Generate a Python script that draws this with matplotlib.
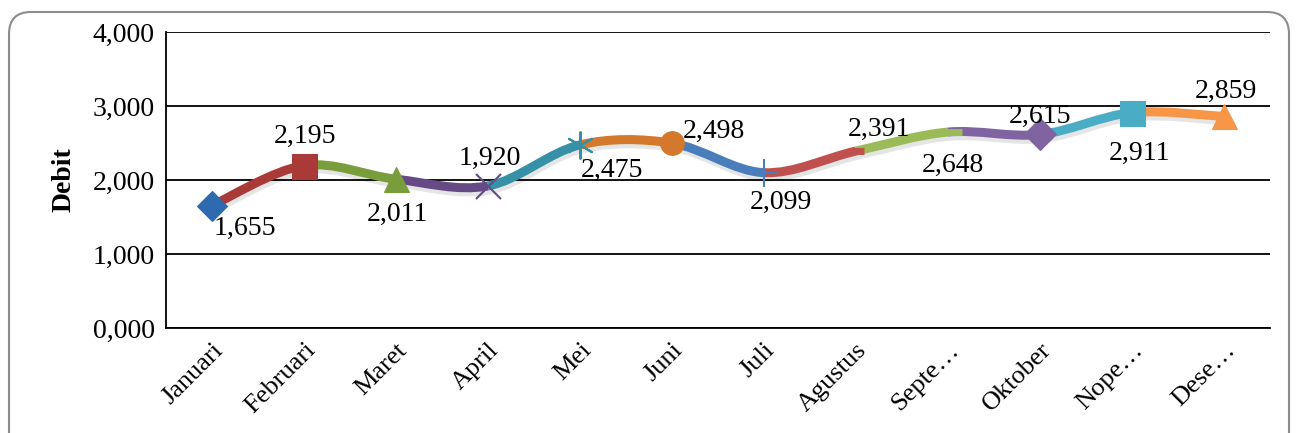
import matplotlib
matplotlib.use('Agg')
from matplotlib import pyplot as plt
from matplotlib.path import Path
from matplotlib.patches import PathPatch, FancyBboxPatch
from matplotlib.transforms import IdentityTransform
import matplotlib.patheffects as pe
import numpy as np

plt.rcParams['font.family'] = ['Liberation Serif', 'DejaVu Serif']

# Data
months = ['Januari', 'Februari', 'Maret', 'April', 'Mei', 'Juni', 'Juli',
          'Agustus', 'Septe…', 'Oktober', 'Nope…', 'Dese…']
debit = [1655, 2195, 2011, 1920, 2475, 2498, 2099, 2391, 2648, 2615, 2911, 2859]

# Style per point (colour of point and of the segment leading to it)
colors = ['#2E6AB0', '#A93A37', '#7A9D3C', '#654A86', '#3691A7', '#D4782C',
          '#4A7EBB', '#C0504D', '#9BBB59', '#8064A2', '#4BACC6', '#F79646']
markers = ['D', 's', '^', 'x', (6, 2, 0), 'o', '+', '_', '_', 'D', 's', '^']
msizes = [15, 18, 18, 18, 20, 17, 20, 11, 20, 16, 18, 18]
# data-label offsets in pixels (dx, dy)
label_offsets = [(33, -23), (1, 29), (1, -35), (2, 28), (32, -26), (42, 12),
                 (17, -30), (23, 22), (5, -33), (0, 18), (7, -41), (2, 25)]

fig = plt.figure(figsize=(12.98, 4.33), dpi=100)
ax = fig.add_axes([166 / 1298, 1 - 328 / 433, 1104 / 1298, 296 / 433])

x = np.arange(len(debit))
y = np.array(debit, dtype=float)

# Excel style smoothed segments (cubic Bezier, tension 1/6)
shadow = [pe.SimpleLineShadow(offset=(1, -3), shadow_color='#000000', alpha=0.1), pe.Normal()]
for i in range(1, len(x)):
    p0 = np.array([x[max(i - 2, 0)], y[max(i - 2, 0)]])
    p1 = np.array([x[i - 1], y[i - 1]])
    p2 = np.array([x[i], y[i]])
    p3 = np.array([x[min(i + 1, len(x) - 1)], y[min(i + 1, len(x) - 1)]])
    c1 = p1 + (p2 - p0) / 6
    c2 = p2 - (p3 - p1) / 6
    path = Path([p1, c1, c2, p2], [Path.MOVETO, Path.CURVE4, Path.CURVE4, Path.CURVE4])
    ax.add_patch(PathPatch(path, facecolor='none', edgecolor=colors[i], lw=6.5,
                           capstyle='butt', zorder=3, path_effects=shadow))

for i in range(len(x)):
    m = markers[i]
    lined = m in ('x', '+', '_') or isinstance(m, tuple)
    ax.plot(x[i], y[i], marker=m, markersize=msizes[i], color=colors[i],
            markeredgecolor=colors[i], markeredgewidth=(5 if m == '_' else 1.5) if lined else 0.8,
            linestyle='none', zorder=4)
    ax.annotate(f'{debit[i]:,}', (x[i], y[i]), xytext=label_offsets[i],
                textcoords='offset pixels', ha='center', va='center',
                fontsize=20, zorder=5)

ax.set_xlim(-0.5, len(x) - 0.5)
ax.set_ylim(0, 4000)
ax.set_yticks([0, 1000, 2000, 3000, 4000])
ax.set_yticklabels([f'{int(v / 1000)},000' for v in [0, 1000, 2000, 3000, 4000]], fontsize=20)
ax.set_xticks(x)
ax.set_xticklabels(months, rotation=45, ha='right', rotation_mode='anchor', fontsize=19)
ax.tick_params(axis='both', length=0, pad=8)
ax.tick_params(axis='x', pad=8)
ax.yaxis.grid(True, color='black', lw=1.3)
ax.set_axisbelow(True)
for s in ['top', 'right']:
    ax.spines[s].set_visible(False)
ax.spines['left'].set_linewidth(1.3)
ax.spines['bottom'].set_linewidth(1.3)
ax.set_ylabel('Debit', fontsize=20, fontweight='bold', labelpad=12)

# outer rounded chart border
fig.patches.append(FancyBboxPatch((9, -40), 1280, 461, boxstyle='round,pad=0,rounding_size=22',
                                  transform=IdentityTransform(), facecolor='none',
                                  edgecolor='#8C8C8C', lw=1.5))

plt.savefig('out.png', dpi=100)
